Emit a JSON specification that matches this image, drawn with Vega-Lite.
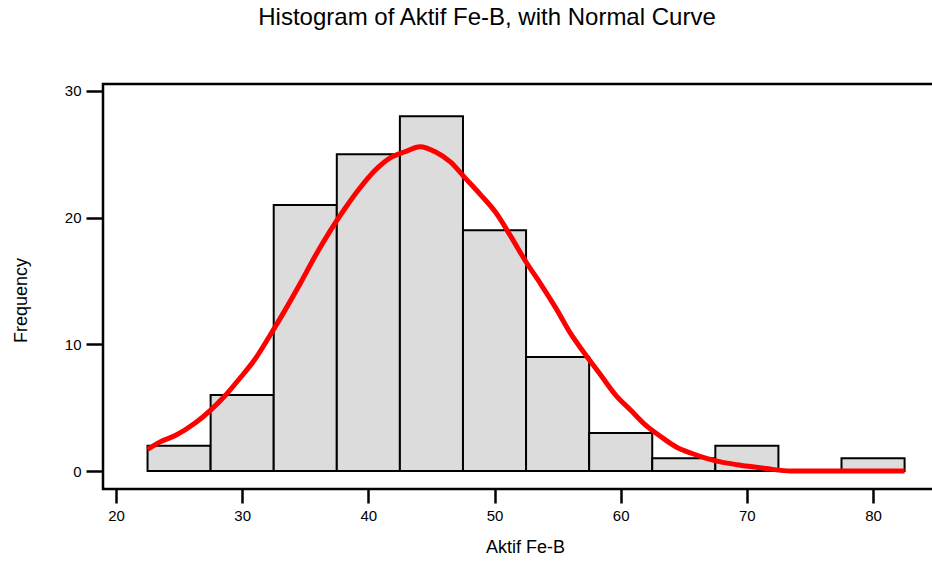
{
  "$schema": "https://vega.github.io/schema/vega-lite/v6.json",
  "autosize": "none",
  "width": 832,
  "height": 405,
  "padding": {"left": 103, "top": 84, "right": 0, "bottom": 73},
  "background": "white",
  "config": {
    "font": "Liberation Sans",
    "view": {"stroke": "black", "strokeWidth": 2.5},
    "axis": {"grid": false, "domain": false, "tickColor": "black", "tickWidth": 2.5, "labelColor": "black", "titleColor": "black", "labelFont": "Liberation Sans", "titleFont": "Liberation Sans", "titleFontWeight": "normal", "labelFontSize": 15, "titleFontSize": 18}
  },
  "title": {"text": "Histogram of Aktif Fe-B, with Normal Curve", "fontSize": 24, "font": "Liberation Sans", "fontWeight": "normal", "color": "black", "anchor": "middle", "dx": -32, "offset": 35, "baseline": "alphabetic"},
  "datasets": {
    "bins": [
      {"start": 22.5, "end": 27.5, "count": 2, "base": 0},
      {"start": 27.5, "end": 32.5, "count": 6, "base": 0},
      {"start": 32.5, "end": 37.5, "count": 21, "base": 0},
      {"start": 37.5, "end": 42.5, "count": 25, "base": 0},
      {"start": 42.5, "end": 47.5, "count": 28, "base": 0},
      {"start": 47.5, "end": 52.5, "count": 19, "base": 0},
      {"start": 52.5, "end": 57.5, "count": 9, "base": 0},
      {"start": 57.5, "end": 62.5, "count": 3, "base": 0},
      {"start": 62.5, "end": 67.5, "count": 1, "base": 0},
      {"start": 67.5, "end": 72.5, "count": 2, "base": 0},
      {"start": 77.5, "end": 82.5, "count": 1, "base": 0}
    ],
    "curve": [
      {"x": 22.5, "y": 1.7}, {"x": 23.5, "y": 2.3}, {"x": 24.7, "y": 2.8}, {"x": 26.3, "y": 3.8},
      {"x": 27.5, "y": 4.8}, {"x": 28.6, "y": 5.9}, {"x": 29.8, "y": 7.3}, {"x": 31.0, "y": 8.8},
      {"x": 32.2, "y": 10.7}, {"x": 33.4, "y": 12.7}, {"x": 34.6, "y": 14.8}, {"x": 35.8, "y": 17.0},
      {"x": 37.0, "y": 19.0}, {"x": 38.2, "y": 20.8}, {"x": 39.3, "y": 22.3}, {"x": 40.5, "y": 23.7},
      {"x": 41.7, "y": 24.7}, {"x": 42.9, "y": 25.2}, {"x": 44.1, "y": 25.6}, {"x": 45.3, "y": 25.2},
      {"x": 46.5, "y": 24.4}, {"x": 47.7, "y": 23.1}, {"x": 48.9, "y": 21.8}, {"x": 50.1, "y": 20.4},
      {"x": 51.3, "y": 18.5}, {"x": 52.5, "y": 16.5}, {"x": 53.7, "y": 14.7}, {"x": 54.9, "y": 12.8},
      {"x": 56.0, "y": 10.9}, {"x": 57.2, "y": 9.2}, {"x": 58.4, "y": 7.6}, {"x": 59.6, "y": 6.0},
      {"x": 60.8, "y": 4.8}, {"x": 62.0, "y": 3.6}, {"x": 63.2, "y": 2.7}, {"x": 64.4, "y": 1.9},
      {"x": 65.6, "y": 1.4}, {"x": 66.8, "y": 1.0}, {"x": 68.0, "y": 0.7}, {"x": 69.2, "y": 0.5},
      {"x": 70.3, "y": 0.35}, {"x": 71.5, "y": 0.2}, {"x": 73.5, "y": 0.0}, {"x": 82.5, "y": 0.0}
    ]
  },
  "layer": [
    {
      "data": {"name": "bins"},
      "mark": {"type": "rect", "fill": "#dcdcdc", "stroke": "black", "strokeWidth": 2},
      "encoding": {
        "x": {"field": "start", "type": "quantitative", "scale": {"domain": [18.97, 84.91], "nice": false, "zero": false},
              "axis": {"values": [20, 30, 40, 50, 60, 70, 80], "tickSize": 14, "labelPadding": 5, "labelFontSize": 15, "title": "Aktif Fe-B", "titleFontSize": 18, "titleColor": "black", "titlePadding": 15, "titleX": 422}},
        "x2": {"field": "end"},
        "y": {"field": "count", "type": "quantitative", "scale": {"domain": [-1.42, 30.55], "nice": false, "zero": false},
              "axis": {"values": [0, 10, 20, 30], "tickSize": 17, "labelPadding": 5, "labelFontSize": 15, "title": "Frequency", "titleFontSize": 18, "titleColor": "black", "titlePadding": 34, "titleY": 216}},
        "y2": {"field": "base"}
      }
    },
    {
      "data": {"name": "curve"},
      "mark": {"type": "line", "color": "#ff0000", "strokeWidth": 5, "interpolate": "monotone"},
      "encoding": {
        "x": {"field": "x", "type": "quantitative",
              "axis": {"values": [20, 30, 40, 50, 60, 70, 80], "tickSize": 14, "labelPadding": 5, "labelFontSize": 15, "title": "Aktif Fe-B", "titleFontSize": 18, "titleColor": "black", "titlePadding": 15, "titleX": 422}},
        "y": {"field": "y", "type": "quantitative",
              "axis": {"values": [0, 10, 20, 30], "tickSize": 17, "labelPadding": 5, "labelFontSize": 15, "title": "Frequency", "titleFontSize": 18, "titleColor": "black", "titlePadding": 34, "titleY": 216}}
      }
    }
  ]
}
